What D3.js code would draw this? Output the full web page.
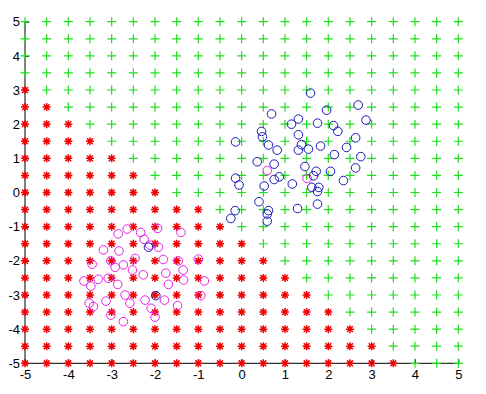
<!DOCTYPE html>
<html>
<head>
    <meta charset="utf-8">
    <script src="https://cdnjs.cloudflare.com/ajax/libs/d3/7.8.5/d3.min.js"></script>
    <style>
        body { margin: 0; background: #fff; }
        .axis text {
            font-family: Arial, "Liberation Sans", sans-serif;
            font-size: 13px;
            fill: #000;
        }
        .axis path, .axis line {
            stroke: #000;
            stroke-width: 1px;
        }
    </style>
</head>
<body>
    <div id="chart"></div>
    <script>
        const width = 486, height = 394;
        const margin = { left: 25, top: 21.7, right: 27.7, bottom: 30.7 };

        // grid of test points (both axes) and tick labels
        const gridVals = [-5, -4.5, -4, -3.5, -3, -2.5, -2, -1.5, -1, -0.5, 0,
                          0.5, 1, 1.5, 2, 2.5, 3, 3.5, 4, 4.5, 5];
        const tickVals = [-5, -4, -3, -2, -1, 0, 1, 2, 3, 4, 5];
        // for each grid row (same order as gridVals, y = -5 .. 5): last x that is classed red, null = none
        const redEdge = [3.5, 3, 2.5, 2, 1.5, 1, 0.5, 0, -0.5, -1, -2,
                         -2.5, -3, -3.5, -4, -4.5, -5, null, null, null, null];

        // training samples
        const blueClass = [
            [1.59, 2.91], [2.69, 2.56], [1.96, 2.41], [0.69, 2.30], [2.87, 2.12], [1.31, 2.15],
            [1.15, 2.00], [1.75, 2.03], [2.12, 1.96], [2.22, 1.79], [0.46, 1.79], [0.48, 1.63],
            [1.31, 1.69], [-0.14, 1.48], [0.62, 1.39], [2.63, 1.60], [1.38, 1.40], [0.82, 1.24],
            [1.31, 1.24], [1.54, 1.27], [1.82, 1.36], [2.42, 1.32], [2.14, 1.11], [2.75, 1.05],
            [0.36, 0.90], [0.75, 0.83], [1.46, 0.76], [2.63, 0.72], [1.72, 0.62], [2.05, 0.62],
            [1.66, 0.49], [-0.14, 0.42], [0.87, 0.46], [0.75, 0.38], [2.35, 0.35], [-0.06, 0.22],
            [1.17, 0.25], [0.52, 0.19], [1.62, 0.15], [1.78, 0.15], [1.75, 0.03], [0.40, -0.27],
            [1.75, -0.34], [1.29, -0.47], [-0.15, -0.53], [0.62, -0.53], [0.59, -0.63],
            [-0.25, -0.76], [0.59, -0.84], [-2.15, -1.60], [-1.98, -3.02]
        ];
        const magentaClass = [
            [-2.64, -1.07], [-2.85, -1.21], [-2.33, -1.17], [-1.94, -1.05], [-1.40, -1.17],
            [-2.25, -1.37], [-2.12, -1.54], [-1.92, -1.60], [-3.19, -1.68], [-2.83, -1.71],
            [-2.46, -1.93], [-3.45, -2.10], [-3.02, -2.00], [-2.92, -2.19], [-2.73, -2.12],
            [-2.52, -2.27], [-1.81, -1.96], [-1.46, -2.00], [-1.00, -1.95], [-1.35, -2.27],
            [-2.27, -2.41], [-1.75, -2.36], [-1.34, -2.56], [-0.86, -2.59], [-3.64, -2.59],
            [-3.31, -2.54], [-3.48, -2.74], [-3.08, -2.51], [-2.86, -2.69], [-1.69, -2.69],
            [-2.69, -3.00], [-3.13, -3.18], [-2.58, -3.24], [-2.23, -3.15], [-1.78, -3.15],
            [-0.94, -3.02], [-3.52, -3.24], [-3.42, -3.34], [-2.09, -3.39], [-1.48, -3.31],
            [-3.02, -3.59], [-2.00, -3.65], [-2.73, -3.78], [0.59, 0.64], [1.51, 0.41]
        ];

        const svg = d3.select("#chart").append("svg")
            .attr("width", width).attr("height", height);

        const x = d3.scaleLinear().domain([-5, 5]).range([margin.left, width - margin.right]);
        const y = d3.scaleLinear().domain([-5, 5]).range([height - margin.bottom, margin.top]);

        // grid points with their predicted class
        const grid = [];
        gridVals.forEach((gy, i) => {
            gridVals.forEach(gx => {
                const edge = redEdge[i];
                grid.push({ x: gx, y: gy, red: edge !== null && gx <= edge });
            });
        });

        const plusPath = "M-4.5,0H4.5M0,-4.5V4.5";
        const starPath = "M-4,0H4M0,-4V4M-2.9,-2.9L2.9,2.9M-2.9,2.9L2.9,-2.9";
        const fmt = d => String(d);   // plain hyphen minus like the original

        // axes first so markers sit over them
        svg.append("g")
            .attr("class", "axis")
            .attr("transform", `translate(0,${y(-5)})`)
            .call(d3.axisBottom(x).tickValues(tickVals).tickSize(-4).tickPadding(6.5).tickFormat(fmt))
            .call(g => g.select(".domain").attr("d", `M${x(-5)},0H${x(5)}`));

        svg.append("g")
            .attr("class", "axis")
            .attr("transform", `translate(${x(-5)},0)`)
            .call(d3.axisLeft(y).tickValues(tickVals).tickSize(-4).tickPadding(5).tickFormat(fmt))
            .call(g => g.select(".domain").attr("d", `M0,${y(5)}V${y(-5)}`));

        svg.append("g")
            .selectAll("path")
            .data(grid)
            .enter().append("path")
            .attr("transform", d => `translate(${x(d.x)},${y(d.y)})`)
            .attr("d", d => d.red ? starPath : plusPath)
            .attr("fill", "none")
            .attr("stroke", d => d.red ? "#f00000" : "#20dd20")
            .attr("stroke-width", d => d.red ? 1.5 : 1.2);

        svg.append("g")
            .selectAll("circle")
            .data(magentaClass)
            .enter().append("circle")
            .attr("cx", d => x(d[0]))
            .attr("cy", d => y(d[1]))
            .attr("r", 4.3)
            .attr("fill", "none")
            .attr("stroke", "#e820e8")
            .attr("stroke-width", 1);

        svg.append("g")
            .selectAll("circle")
            .data(blueClass)
            .enter().append("circle")
            .attr("cx", d => x(d[0]))
            .attr("cy", d => y(d[1]))
            .attr("r", 4.3)
            .attr("fill", "none")
            .attr("stroke", "#1818b8")
            .attr("stroke-width", 1);
    </script>
</body>
</html>
